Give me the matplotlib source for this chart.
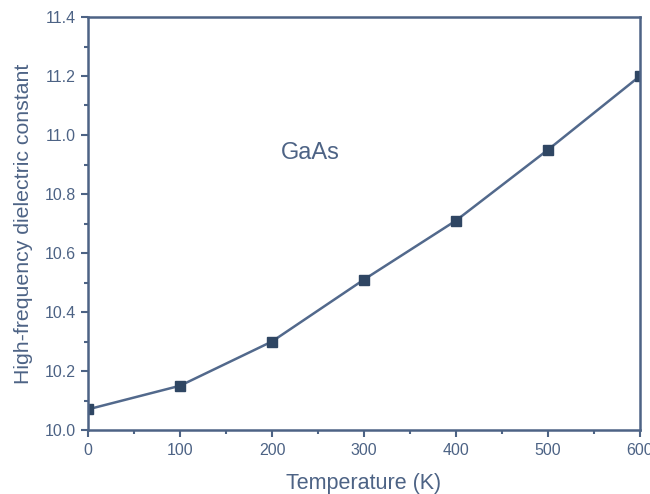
import matplotlib
matplotlib.use("Agg")
import matplotlib.pyplot as plt
from matplotlib.ticker import MultipleLocator, FormatStrFormatter

temperature = [0, 100, 200, 300, 400, 500, 600]
eps_inf = [10.07, 10.15, 10.30, 10.51, 10.71, 10.95, 11.20]

AXIS_COLOR = '#4d6385'
LINE_COLOR = '#52698c'
MARK_COLOR = '#2f4663'

plt.rcParams['font.family'] = ['Liberation Sans', 'DejaVu Sans']

fig = plt.figure(figsize=(6.5, 4.94), dpi=100)
ax = fig.add_axes([88 / 650, 64 / 494, 552 / 650, 413 / 494])

ax.plot(temperature, eps_inf, color=LINE_COLOR, lw=1.8, marker='s', ms=6.5,
        mfc=MARK_COLOR, mec=MARK_COLOR, clip_on=True)

ax.set_xlim(0, 600)
ax.set_ylim(10.0, 11.4)
ax.xaxis.set_major_locator(MultipleLocator(100))
ax.xaxis.set_minor_locator(MultipleLocator(50))
ax.yaxis.set_major_locator(MultipleLocator(0.2))
ax.yaxis.set_minor_locator(MultipleLocator(0.1))
ax.yaxis.set_major_formatter(FormatStrFormatter('%.1f'))

for s in ax.spines.values():
    s.set_color(AXIS_COLOR)
    s.set_linewidth(1.8)

ax.tick_params(which='both', direction='out', colors=AXIS_COLOR, width=1.5,
               labelsize=11.5, top=False, right=False)
ax.tick_params(which='major', length=5, pad=4)
ax.tick_params(which='minor', length=3)

ax.set_xlabel('Temperature (K)', fontsize=15.5, color=AXIS_COLOR, labelpad=11)
ax.set_ylabel('High-frequency dielectric constant', fontsize=15.3,
              color=AXIS_COLOR, labelpad=8)

ax.text(242, 10.94, 'GaAs', fontsize=17, color=AXIS_COLOR, ha='center', va='center')

fig.savefig('out.png', dpi=100)
